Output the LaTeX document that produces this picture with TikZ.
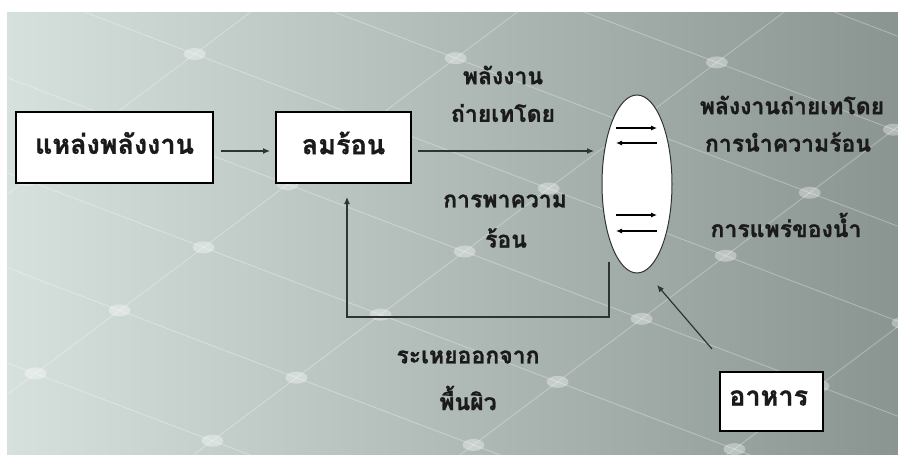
\documentclass[tikz,border=0pt]{standalone}
\usepackage{fontspec}
\newfontfamily\thai[Script=Thai,BoldFeatures={FakeBold=1}]{Loma}
\usetikzlibrary{arrows.meta,shapes.geometric}
\definecolor{bgL}{HTML}{D6E1DE}
\definecolor{bgR}{HTML}{8A9491}
\definecolor{ink}{HTML}{1A1A1A}
\definecolor{arr}{HTML}{2E3432}
\tikzset{
  lbl/.style={font=\thai\bfseries\fontsize{23}{26}\selectfont, text=ink, inner sep=0pt},
  boxlbl/.style={font=\thai\bfseries\fontsize{27}{30}\selectfont, text=ink, inner sep=0pt},
  boxnode/.style={draw=black, line width=1.3pt, fill=white, inner sep=0pt},
  conn/.style={draw=arr, line width=1.2pt, -{Latex[length=7pt,width=6pt]}},
  small/.style={draw=black, line width=1.1pt, -{Latex[length=6pt,width=5pt]}},
}
\begin{document}
\begin{tikzpicture}[x=1pt,y=-1pt]
\useasboundingbox (0,0) rectangle (898,455);
\fill[white] (0,0) rectangle (898,455);
\shade[left color=bgL, right color=bgR] (7,12) rectangle (898,455);
% faint perspective grid with dots
\begin{scope}
\clip (7,12) rectangle (898,455);
\begin{scope}[white, opacity=0.3, line width=0.9pt]
\foreach \a in {-400,-305,...,500} {
  \draw (0,\a) -- (898,\a+0.38*898);
}
\foreach \b in {0,200,...,1400} {
  \draw (0,\b) -- (898,\b-0.75*898);
}
\end{scope}
\foreach \a in {-400,-305,...,500} {
  \foreach \b in {0,200,...,1400} {
    \pgfmathsetmacro{\xx}{(\b-\a)/1.13}
    \pgfmathsetmacro{\yy}{\a+0.38*\xx}
    \fill[white, opacity=0.35] (\xx,\yy) ellipse [x radius=11pt, y radius=6pt];
  }
}
\end{scope}
% boxes
\node[boxnode, minimum width=197pt, minimum height=71pt] (src) at (114.5,147.5) {};
\node[boxlbl] (srct) at (114.5,143) {แหล่งพลังงาน};
\node[boxnode, minimum width=135pt, minimum height=71pt] (air) at (343.5,147.5) {};
\node[boxlbl] (airt) at (343.5,143) {ลมร้อน};
\node[boxnode, minimum width=103pt, minimum height=59pt] (food) at (771.5,401.5) {};
\node[boxlbl, anchor=west] (foodt) at (729,398) {อาหาร};
% ellipse
\node[ellipse, draw=arr, line width=1pt, fill=white, minimum width=70pt, minimum height=178pt, inner sep=0pt] (cell) at (637,184) {};
% small arrows inside ellipse
\coordinate (a1) at (616,128); \coordinate (b1) at (657,128);
\coordinate (a2) at (657,143); \coordinate (b2) at (616,143);
\coordinate (a3) at (616,215); \coordinate (b3) at (657,215);
\coordinate (a4) at (657,231); \coordinate (b4) at (616,231);
\draw[small] (a1) -- (b1);
\draw[small] (a2) -- (b2);
\draw[small] (a3) -- (b3);
\draw[small] (a4) -- (b4);
% connectors
\coordinate (s1) at (221,151);
\coordinate (e1) at (270,151);
\draw[conn] (s1) -- (e1);
\coordinate (s2) at (418,151);
\coordinate (e2) at (594,151);
\draw[conn] (s2) -- (e2);
\coordinate (f1) at (609,262);
\coordinate (f2) at (609,317);
\coordinate (f3) at (347,317);
\coordinate (f4) at (347,197);
\draw[conn] (f1) -- (f2) -- (f3) -- (f4);
\coordinate (g1) at (712,349);
\coordinate (g2) at (657,285);
\draw[conn] (g1) -- (g2);
% labels
\node[lbl] (l1) at (503,75) {พลังงาน};
\node[lbl] (l2) at (503,113) {ถ่ายเทโดย};
\node[lbl] (l3) at (505,201) {การพาความ};
\node[lbl] (l4) at (506,238) {ร้อน};
\node[lbl] (l5) at (792,105) {พลังงานถ่ายเทโดย};
\node[lbl] (l6) at (788,142) {การนำความร้อน};
\node[lbl] (l7) at (786,225) {การแพร่ของน้ำ};
\node[lbl] (l8) at (468,357) {ระเหยออกจาก};
\node[lbl] (l9) at (468,398) {พื้นผิว};
\end{tikzpicture}
\end{document}
